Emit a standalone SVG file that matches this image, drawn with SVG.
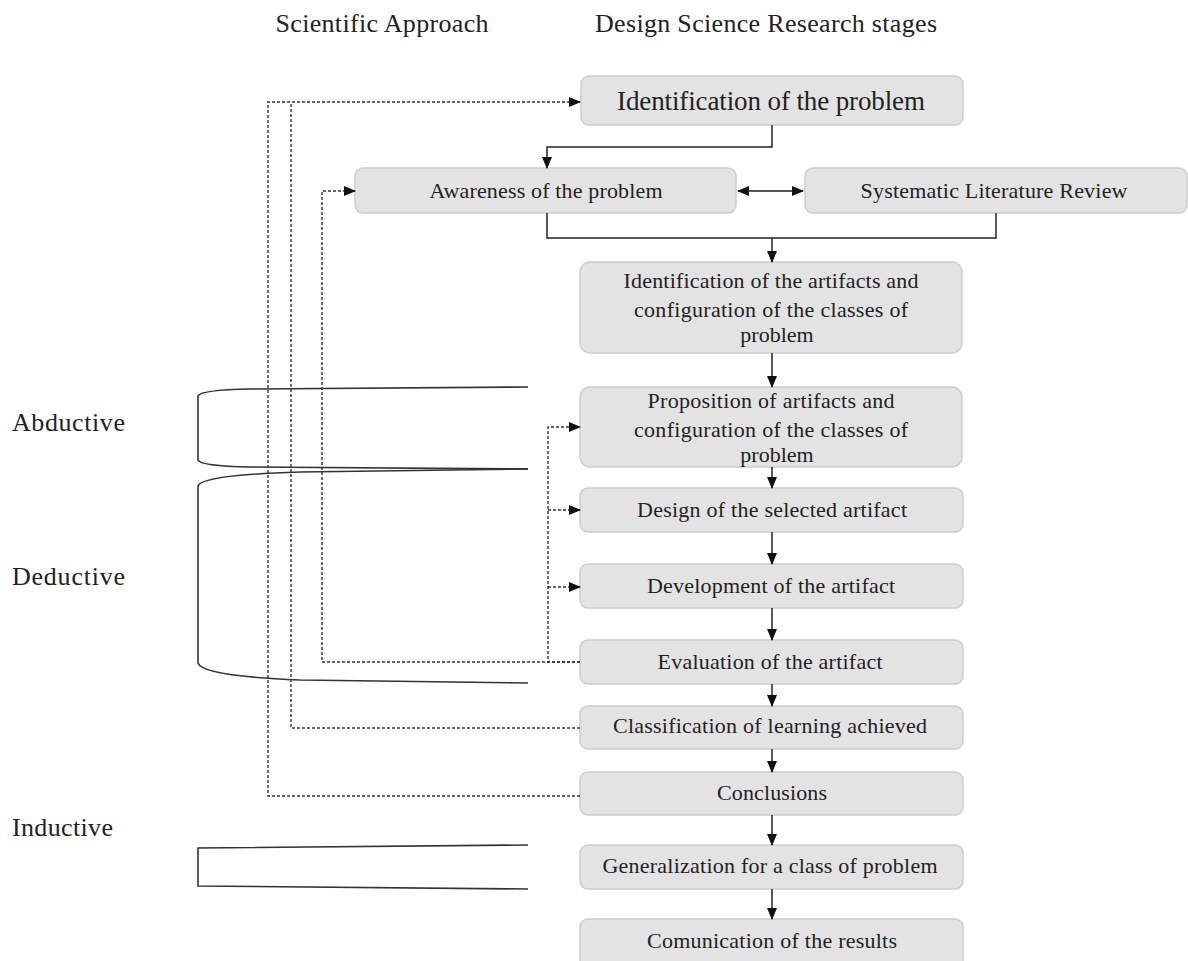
<svg xmlns="http://www.w3.org/2000/svg" width="1188" height="961" viewBox="0 0 1188 961">
<style>
text{font-family:"Liberation Serif","Times New Roman",serif;fill:#222}
.box{fill:#e3e3e3;stroke:#cdcdcd;stroke-width:1.5}
.t{font-size:22px;text-anchor:middle}
.lbl{font-size:26px}
.hd{font-size:26px;text-anchor:middle}
.c{fill:none;stroke:#222;stroke-width:1.5}
.d{fill:none;stroke:#333;stroke-width:1.4;stroke-dasharray:3 2}
.br{fill:none;stroke:#333;stroke-width:1.6}
</style>
<defs>
<marker id="ah" markerUnits="userSpaceOnUse" markerWidth="12" markerHeight="10" refX="11" refY="5" orient="auto-start-reverse" viewBox="0 0 12 10">
<path d="M0,0 L12,5 L0,10 z" fill="#111"/>
</marker>
</defs>
<g id="headers">
<text class="hd" x="382" y="32" textLength="213">Scientific Approach</text>
<text class="hd" x="766" y="32" textLength="342">Design Science Research stages</text>
</g>
<g id="labels">
<text class="lbl" x="12" y="431" textLength="113">Abductive</text>
<text class="lbl" x="12" y="585" textLength="113">Deductive</text>
<text class="lbl" x="12" y="836" textLength="101">Inductive</text>
</g>
<g id="brackets">
<path class="br" d="M528,387 L250,389 Q200,390 198,396 L198,460 Q200,466 250,467 L528,469"/>
<path class="br" d="M528,469 L300,472 Q202,475 198,486 L198,663 Q202,676 300,680 L528,683"/>
<path class="br" d="M528,845 L198,848 L198,886 L528,889"/>
</g>
<g id="n1"><rect class="box" x="581" y="76" width="382" height="49" rx="8"/><text class="t" x="771" y="110" style="font-size:27px" textLength="308">Identification of the problem</text></g>
<g id="n2"><rect class="box" x="355" y="168" width="381" height="45" rx="8"/><text class="t" x="546" y="198" textLength="233">Awareness of the problem</text></g>
<g id="n3"><rect class="box" x="805" y="168" width="382" height="45" rx="8"/><text class="t" x="994" y="198" textLength="267">Systematic Literature Review</text></g>
<g id="n4"><rect class="box" x="580" y="262" width="382" height="91" rx="10"/>
<text class="t" x="771" y="288" textLength="295">Identification of the artifacts and</text>
<text class="t" x="771" y="317" textLength="274">configuration of the classes of</text>
<text class="t" x="777" y="342">problem</text></g>
<g id="n5"><rect class="box" x="580" y="387" width="382" height="80" rx="10"/>
<text class="t" x="771" y="408" textLength="247">Proposition of artifacts and</text>
<text class="t" x="771" y="437" textLength="274">configuration of the classes of</text>
<text class="t" x="777" y="462">problem</text></g>
<g id="n6"><rect class="box" x="580" y="488" width="383" height="44" rx="8"/><text class="t" x="772" y="517" textLength="270">Design of the selected artifact</text></g>
<g id="n7"><rect class="box" x="580" y="564" width="383" height="44" rx="8"/><text class="t" x="771" y="593" textLength="248">Development of the artifact</text></g>
<g id="n8"><rect class="box" x="580" y="640" width="383" height="44" rx="8"/><text class="t" x="770" y="669" textLength="225">Evaluation of the artifact</text></g>
<g id="n9"><rect class="box" x="580" y="706" width="383" height="43" rx="8"/><text class="t" x="770" y="733" textLength="314">Classification of learning achieved</text></g>
<g id="n10"><rect class="box" x="580" y="772" width="383" height="43" rx="8"/><text class="t" x="772" y="800" textLength="110">Conclusions</text></g>
<g id="n11"><rect class="box" x="580" y="845" width="383" height="44" rx="8"/><text class="t" x="770" y="873" textLength="335">Generalization for a class of problem</text></g>
<g id="n12"><rect class="box" x="580" y="919" width="383" height="50" rx="8"/><text class="t" x="772" y="948" textLength="250">Comunication of the results</text></g>
<g id="connectors">
<path class="c" d="M772,125 V147 H547 V168" marker-end="url(#ah)"/>
<path class="c" d="M738,191 H803" marker-start="url(#ah)" marker-end="url(#ah)"/>
<path class="c" d="M547,213 V238 H996 V213"/>
<path class="c" d="M772,238 V262" marker-end="url(#ah)"/>
<path class="c" d="M772,353 V387" marker-end="url(#ah)"/>
<path class="c" d="M772,467 V488" marker-end="url(#ah)"/>
<path class="c" d="M772,532 V564" marker-end="url(#ah)"/>
<path class="c" d="M772,608 V640" marker-end="url(#ah)"/>
<path class="c" d="M772,684 V706" marker-end="url(#ah)"/>
<path class="c" d="M772,749 V772" marker-end="url(#ah)"/>
<path class="c" d="M772,815 V845" marker-end="url(#ah)"/>
<path class="c" d="M772,889 V919" marker-end="url(#ah)"/>
<path class="d" d="M580,796 H268 V102 H580" marker-end="url(#ah)"/>
<path class="d" d="M580,728 H291 V102"/>
<path class="d" d="M580,662 H322 V191 H355" marker-end="url(#ah)"/>
<path class="d" d="M580,662 H548 V427 H580" marker-end="url(#ah)"/>
<path class="d" d="M548,510 H580" marker-end="url(#ah)"/>
<path class="d" d="M548,587 H580" marker-end="url(#ah)"/>
</g>
</svg>
